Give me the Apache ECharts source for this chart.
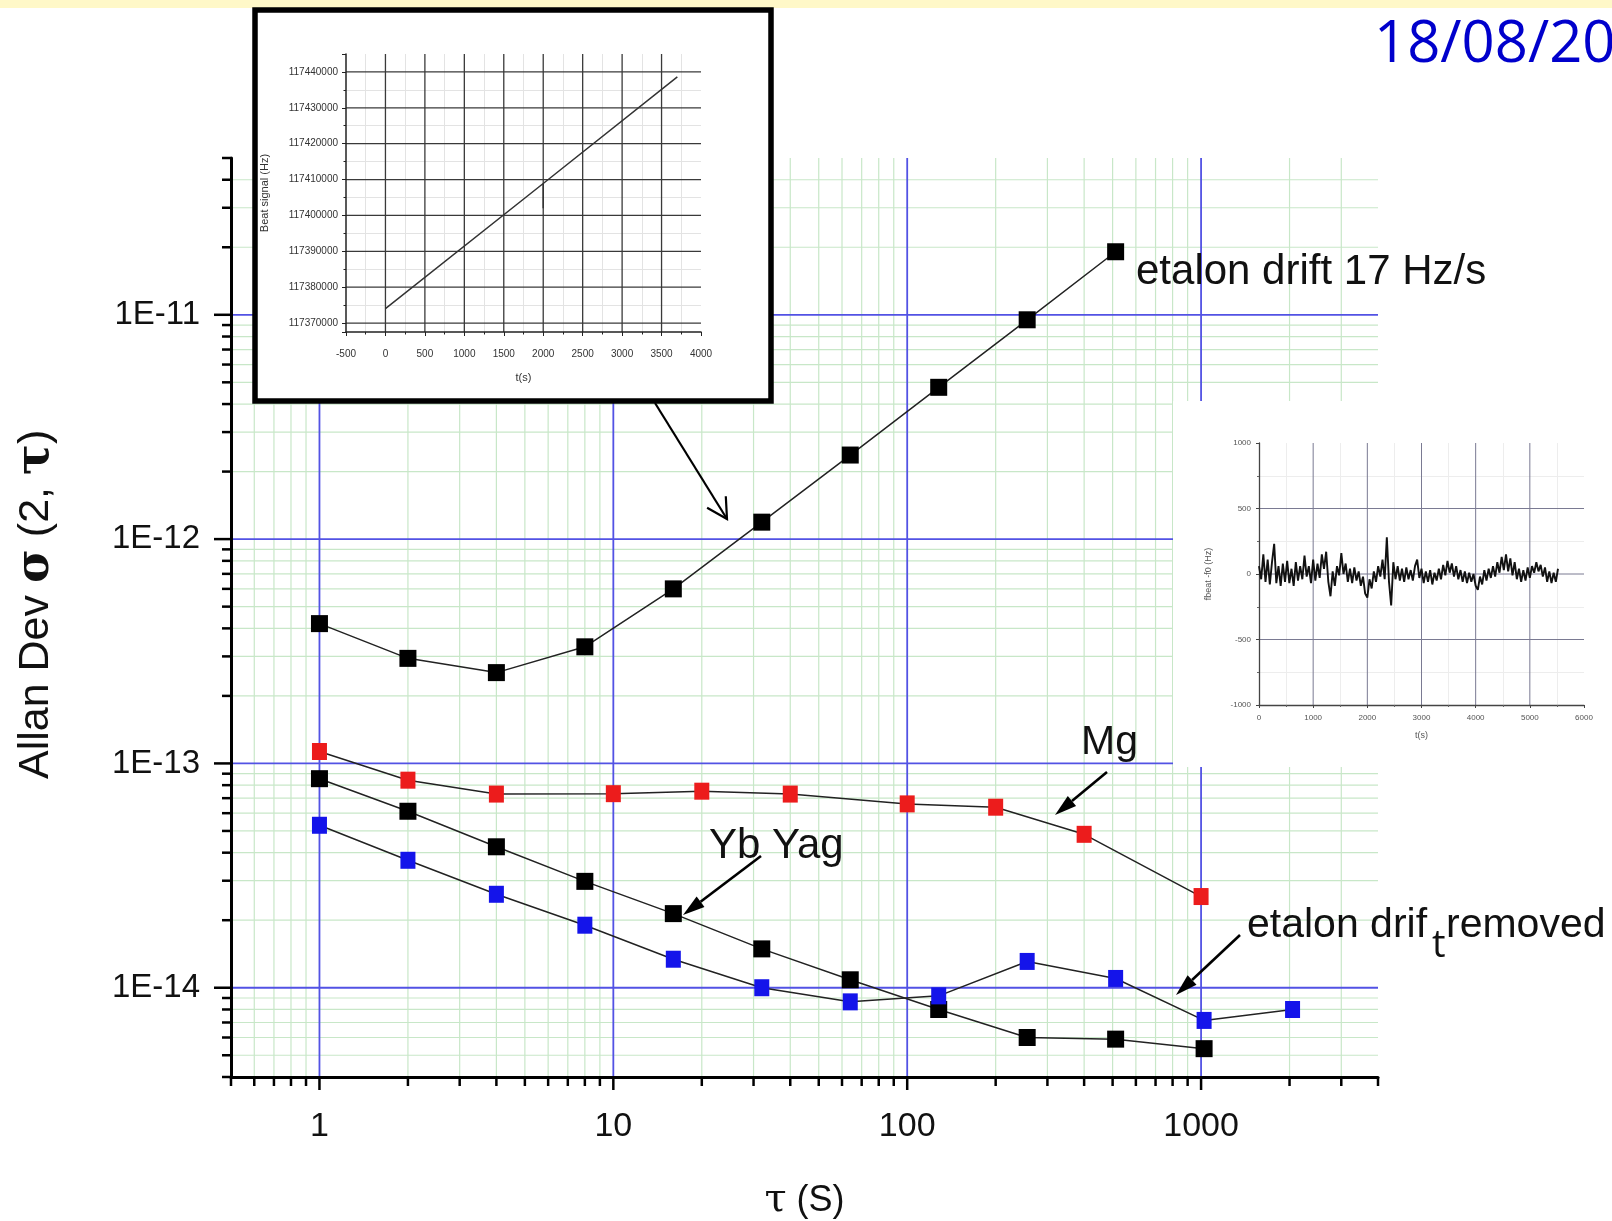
<!DOCTYPE html>
<html><head><meta charset="utf-8">
<script src="https://cdn.jsdelivr.net/npm/echarts@6/dist/echarts.min.js"></script>
<style>html,body{margin:0;padding:0;background:#fff;}#c{width:1612px;height:1221px;}</style>
</head><body><div id="c"></div>
<script>
// ---------- main chart data (Allan deviation vs tau) ----------
const tauDrift  = [1, 2, 4, 8, 16, 32, 64, 128, 256, 512];
const adevDrift = [4.2e-13, 2.94e-13, 2.54e-13, 3.31e-13, 6.0e-13, 1.19e-12, 2.37e-12, 4.75e-12, 9.5e-12, 1.91e-11];
const tauMg  = [1, 2, 4, 10, 20, 40, 100, 200, 400, 1000];
const adevMg = [1.13e-13, 8.42e-14, 7.3e-14, 7.33e-14, 7.52e-14, 7.3e-14, 6.6e-14, 6.38e-14, 4.83e-14, 2.55e-14];
const tauYb  = [1, 2, 4, 8, 16, 32, 64, 128, 256, 512, 1024];
const adevYb = [8.55e-14, 6.12e-14, 4.25e-14, 2.98e-14, 2.14e-14, 1.49e-14, 1.085e-14, 8.0e-15, 6.0e-15, 5.9e-15, 5.35e-15];
const tauRem  = [1, 2, 4, 8, 16, 32, 64, 128, 256, 512, 1024, 2048];
const adevRem = [5.3e-14, 3.7e-14, 2.61e-14, 1.9e-14, 1.34e-14, 1.0e-14, 8.65e-15, 9.2e-15, 1.31e-14, 1.1e-14, 7.15e-15, 8.0e-15];

// axis ranges / tick values
const X_MIN = 0.5, X_MAX = 4000, Y_MIN = 4e-15, Y_MAX = 5e-11;
const xMajor = [1, 10, 100, 1000];
const yMajor = [1e-14, 1e-13, 1e-12, 1e-11];

// ---------- inset 1 (beat signal vs time) ----------
const insetT    = [0, 2000, 2000, 2000, 3700];
const insetBeat = [117374000, 117408900, 117402000, 117408900, 117438600];
const inset1XGrid = [0, 500, 1000, 1500, 2000, 2500, 3000, 3500];
const inset1YGrid = [117370000, 117380000, 117390000, 117400000, 117410000, 117420000, 117430000, 117440000];

// ---------- inset 2 (beat - f0 after drift removal) ----------
const noiseStep = 40; // seconds between samples
const noiseHz = [60,-40,150,-60,110,-80,90,230,-70,60,
  -90,80,-60,100,-70,40,-90,90,-50,60,
  -40,140,-20,60,-70,110,-50,80,-30,150,
  40,170,-60,-170,20,-90,60,-10,160,0,
  80,-60,40,-70,50,-50,20,-90,-20,-150,
  -180,-40,-110,20,-60,60,-20,110,-40,280,
  -60,-240,90,-40,60,-50,40,-60,50,-40,
  30,-50,60,110,-30,40,-70,20,-60,30,
  -80,10,-50,40,-40,70,-10,100,10,80,
  -20,60,-40,30,-60,20,-70,10,-60,0,
  -90,-120,-20,-80,30,-50,40,-30,60,-20,
  90,10,130,30,150,20,120,-10,90,-40,
  40,-60,30,-50,50,-30,60,10,90,20,
  70,-20,50,-60,20,-70,10,-60,40];
const inset2XGrid = [1000, 2000, 3000, 4000, 5000];
const inset2YGrid = [500, 0, -500];

const LIB = "'Liberation Sans', Arial, sans-serif";
const BLUE = '#5252e4', GREEN = '#c8e7c8';

function logSteps(lo, hi) {
  const out = [];
  for (let e = Math.floor(Math.log10(lo)); e <= Math.ceil(Math.log10(hi)); e++) {
    for (let m = 1; m <= 9; m++) {
      const v = m * Math.pow(10, e);
      if (v >= lo * 0.999 && v <= hi * 1.001) out.push(v);
    }
  }
  return out;
}
const isMajor = v => Math.abs(Math.log10(v) - Math.round(Math.log10(v))) < 1e-6;
const xAll = logSteps(X_MIN, X_MAX), yAll = logSteps(Y_MIN, Y_MAX);
const inside = (v, lo, hi) => v > lo * 1.001 && v < hi * 0.999;
const xMinor = xAll.filter(v => !isMajor(v));
const yMinor = yAll.filter(v => !isMajor(v));

function lines(gi, vals, dir, lo, hi, style, z) {
  return {
    type: 'custom', xAxisIndex: gi, yAxisIndex: gi, z: z, silent: true, animation: false, clip: false,
    data: vals.map(v => dir === 'v' ? [v, lo] : [lo, v]),
    encode: { x: 0, y: 1 },
    renderItem(params, api) {
      const a = dir === 'v' ? api.coord([api.value(0), lo]) : api.coord([lo, api.value(1)]);
      const b = dir === 'v' ? api.coord([api.value(0), hi]) : api.coord([hi, api.value(1)]);
      return { type: 'line', shape: { x1: a[0], y1: a[1], x2: b[0], y2: b[1] }, style: style };
    }
  };
}
function ticks(vals, dir, len) {
  return {
    type: 'custom', xAxisIndex: 0, yAxisIndex: 0, z: 3, silent: true, animation: false, clip: false,
    data: vals.map(v => dir === 'x' ? [v, Y_MIN] : [X_MIN, v]),
    encode: { x: 0, y: 1 },
    renderItem(params, api) {
      const p = api.coord([api.value(0), api.value(1)]);
      const shape = dir === 'x' ? { x1: p[0], y1: p[1], x2: p[0], y2: p[1] + len }
                                : { x1: p[0], y1: p[1], x2: p[0] - len, y2: p[1] };
      return { type: 'line', shape: shape, style: { stroke: '#000', lineWidth: 2.5 } };
    }
  };
}
const powX = v => isMajor(v) ? String(Math.round(Math.pow(10, Math.round(Math.log10(v))))) : '';
const powY = v => isMajor(v) ? '1E' + Math.round(Math.log10(v)) : '';

const chart = echarts.init(document.getElementById('c'), null, { renderer: 'canvas' });

function arrow(x1, y1, x2, y2, filled) {
  const ang = Math.atan2(y2 - y1, x2 - x1);
  const L = filled ? 22 : 20, W = filled ? 6.5 : 11;
  const bx = x2 - L * Math.cos(ang), by = y2 - L * Math.sin(ang);
  const px = -Math.sin(ang) * W, py = Math.cos(ang) * W;
  const out = [{ type: 'line', z: 20, shape: { x1: x1, y1: y1, x2: filled ? bx : x2, y2: filled ? by : y2 },
                 style: { stroke: '#000', lineWidth: filled ? 2.6 : 2.2 } }];
  if (filled) out.push({ type: 'polygon', z: 20, shape: { points: [[x2, y2], [bx + px, by + py], [bx - px, by - py]] }, style: { fill: '#000' } });
  else out.push({ type: 'polyline', z: 20, shape: { points: [[bx + px, by + py], [x2, y2], [bx - px, by - py]] }, style: { stroke: '#000', lineWidth: 2.2, fill: null } });
  return out;
}
function txt(t, x, y, size, extra) {
  return Object.assign({ type: 'text', z: 20, x: x, y: y,
    style: Object.assign({ text: t, fontSize: size, fontFamily: LIB, fill: '#111',
      align: 'left', verticalAlign: 'middle', textAlign: 'left', textVerticalAlign: 'middle' }, (extra || {}).style || {}) },
    (extra || {}).el || {});
}

const option = {
  animation: false,
  backgroundColor: '#fff',
  grid: [
    { left: 231, top: 158, width: 1147, height: 919, containLabel: false, outerBoundsMode: 'none' },
    { left: 346, top: 54, width: 355, height: 278, containLabel: false, outerBoundsMode: 'none' },
    { left: 1259, top: 443, width: 325, height: 262, containLabel: false, outerBoundsMode: 'none' }
  ],
  xAxis: [
    { gridIndex: 0, type: 'log', logBase: 10, min: X_MIN, max: X_MAX, z: 3,
      axisLine: { show: true, onZero: false, lineStyle: { color: '#000', width: 3 } },
      axisTick: { show: false }, minorTick: { show: false }, splitLine: { show: false },
      axisLabel: { formatter: powX, margin: 33, fontSize: 34, fontFamily: LIB, color: '#111' },
      name: '{t|τ} (S)', nameLocation: 'middle', nameGap: 104,
      nameTextStyle: { fontSize: 36, fontFamily: LIB, color: '#111', rich: { t: { fontSize: 40, fontFamily: 'DejaVu Serif', color: '#111' } } } },
    { gridIndex: 1, type: 'value', min: -500, max: 4000, interval: 500, z: 11,
      axisLine: { onZero: false, lineStyle: { color: '#222', width: 1.5 } },
      axisTick: { length: 4, lineStyle: { color: '#222' } },
      minorTick: { show: true, splitNumber: 2, length: 2.5, lineStyle: { color: '#222' } },
      splitLine: { show: false }, minorSplitLine: { show: true, lineStyle: { color: '#e3e3e3', width: 1 } },
      axisLabel: { formatter: v => String(v), fontSize: 10, margin: 17, color: '#333', fontFamily: LIB },
      name: 't(s)', nameLocation: 'middle', nameGap: 40, nameTextStyle: { fontSize: 11, color: '#333', fontFamily: LIB } },
    { gridIndex: 2, type: 'value', min: 0, max: 6000, interval: 1000, z: 11,
      axisLine: { onZero: false, lineStyle: { color: '#444', width: 1.3 } },
      axisTick: { length: 3, lineStyle: { color: '#444' } },
      minorTick: { show: true, splitNumber: 2, length: 2, lineStyle: { color: '#666' } },
      splitLine: { show: false }, minorSplitLine: { show: true, lineStyle: { color: '#ededed', width: 1 } },
      axisLabel: { formatter: v => String(v), fontSize: 8, margin: 9, color: '#555', fontFamily: LIB },
      name: 't(s)', nameLocation: 'middle', nameGap: 26, nameTextStyle: { fontSize: 9, color: '#555', fontFamily: LIB } }
  ],
  yAxis: [
    { gridIndex: 0, type: 'log', logBase: 10, min: Y_MIN, max: Y_MAX, z: 3,
      axisLine: { show: true, onZero: false, lineStyle: { color: '#000', width: 3 } },
      axisTick: { show: false }, minorTick: { show: false }, splitLine: { show: false },
      axisLabel: { formatter: powY, margin: 31, fontSize: 33, fontFamily: LIB, color: '#111' } },
    { gridIndex: 1, type: 'value', min: 117367500, max: 117445000, splitNumber: 8, z: 11,
      axisLine: { onZero: false, lineStyle: { color: '#222', width: 1.5 } },
      axisTick: { length: 4, lineStyle: { color: '#222' } },
      minorTick: { show: true, splitNumber: 2, length: 2.5, lineStyle: { color: '#222' } },
      splitLine: { show: false }, minorSplitLine: { show: true, lineStyle: { color: '#e3e3e3', width: 1 } },
      axisLabel: { formatter: v => (Math.round(v) % 10000 === 0 ? String(Math.round(v)) : ''), fontSize: 10, margin: 8, color: '#333', fontFamily: LIB },
      name: 'Beat signal (Hz)', nameLocation: 'middle', nameGap: 76, nameTextStyle: { fontSize: 11, color: '#333', fontFamily: LIB } },
    { gridIndex: 2, type: 'value', min: -1000, max: 1000, interval: 500, z: 11,
      axisLine: { onZero: false, lineStyle: { color: '#444', width: 1.3 } },
      axisTick: { length: 3, lineStyle: { color: '#444' } },
      minorTick: { show: true, splitNumber: 2, length: 2, lineStyle: { color: '#666' } },
      splitLine: { show: false }, minorSplitLine: { show: true, lineStyle: { color: '#ededed', width: 1 } },
      axisLabel: { formatter: v => String(v), fontSize: 8, margin: 8, color: '#555', fontFamily: LIB },
      name: 'fbeat -f0 (Hz)', nameLocation: 'middle', nameGap: 46, nameTextStyle: { fontSize: 9, color: '#555', fontFamily: LIB } }
  ],
  series: [
    // main grid (minor green, major blue) and ticks
    lines(0, xMinor.filter(v => inside(v, X_MIN, X_MAX)), 'v', Y_MIN, Y_MAX, { stroke: GREEN, lineWidth: 1.2 }, 1),
    lines(0, yMinor.filter(v => inside(v, Y_MIN, Y_MAX)), 'h', X_MIN, X_MAX, { stroke: GREEN, lineWidth: 1.2 }, 1),
    lines(0, xMajor, 'v', Y_MIN, Y_MAX, { stroke: BLUE, lineWidth: 1.8 }, 2),
    lines(0, yMajor, 'h', X_MIN, X_MAX, { stroke: BLUE, lineWidth: 1.8 }, 2),
    ticks(xMinor, 'x', 9), ticks(xMajor, 'x', 13),
    ticks(yMinor, 'y', 9), ticks(yMajor, 'y', 17),
    // data
    { type: 'line', xAxisIndex: 0, yAxisIndex: 0, z: 5, data: tauDrift.map((t, i) => [t, adevDrift[i]]),
      symbol: 'rect', symbolSize: [17, 17], itemStyle: { color: '#000' }, lineStyle: { color: '#222', width: 1.5 } },
    { type: 'line', xAxisIndex: 0, yAxisIndex: 0, z: 5, data: tauMg.map((t, i) => [t, adevMg[i]]),
      symbol: 'rect', symbolSize: [15, 17], itemStyle: { color: '#ec1c1c' }, lineStyle: { color: '#222', width: 1.5 } },
    { type: 'line', xAxisIndex: 0, yAxisIndex: 0, z: 5, data: tauYb.map((t, i) => [t, adevYb[i]]),
      symbol: 'rect', symbolSize: [17, 17], itemStyle: { color: '#000' }, lineStyle: { color: '#222', width: 1.5 } },
    { type: 'line', xAxisIndex: 0, yAxisIndex: 0, z: 6, data: tauRem.map((t, i) => [t, adevRem[i]]),
      symbol: 'rect', symbolSize: [15, 17], itemStyle: { color: '#1414ea' }, lineStyle: { color: '#222', width: 1.5 } },
    // inset 1
    lines(1, inset1XGrid, 'v', 117367500, 117445000, { stroke: '#3a3a3a', lineWidth: 1.3 }, 11),
    lines(1, inset1YGrid, 'h', -500, 4000, { stroke: '#3a3a3a', lineWidth: 1.3 }, 11),
    { type: 'line', xAxisIndex: 1, yAxisIndex: 1, z: 12, showSymbol: false, symbol: 'none',
      data: insetT.map((t, i) => [t, insetBeat[i]]), lineStyle: { color: '#333', width: 1.5 } },
    // inset 2
    lines(2, inset2XGrid, 'v', -1000, 1000, { stroke: '#7a7a92', lineWidth: 1 }, 11),
    lines(2, inset2YGrid, 'h', 0, 6000, { stroke: '#7a7a92', lineWidth: 1 }, 11),
    { type: 'line', xAxisIndex: 2, yAxisIndex: 2, z: 12, showSymbol: false, symbol: 'none',
      data: noiseHz.map((v, i) => [i * noiseStep, v]), lineStyle: { color: '#111', width: 1.9 } }
  ],
  graphic: [
    { type: 'rect', z: 0, shape: { x: 0, y: 0, width: 1612, height: 8 }, style: { fill: '#fff8c8' } },
    { type: 'rect', z: 10, shape: { x: 255, y: 10, width: 516, height: 391 }, style: { fill: '#fff', stroke: '#000', lineWidth: 5.5 } },
    { type: 'rect', z: 10, shape: { x: 1173, y: 401, width: 450, height: 366 }, style: { fill: '#fff' } },
    txt('18/08/20', 1374, 45, 58, { style: { fontFamily: "'Open Sans', 'Noto Sans', sans-serif", fill: '#0000cc' } }),
    { type: 'text', z: 20, x: 36, y: 779, rotation: Math.PI / 2,
      style: { text: '{a|Allan Dev }{s|σ}{a| (2, }{s|τ}{a|)}', align: 'left', verticalAlign: 'middle', textAlign: 'left', textVerticalAlign: 'middle',
        rich: { a: { fontSize: 43, fontFamily: LIB, fill: '#111' }, s: { fontSize: 46, fontFamily: 'DejaVu Serif', fontWeight: 'bold', fill: '#111' } } } },
    txt('etalon drift 17 Hz/s', 1136, 272, 42),
    txt('Mg', 1081, 743, 41),
    txt('Yb Yag', 709, 846, 42),
    txt('etalon drif', 1247, 926, 41),
    txt('t', 1432, 946, 38, { style: { fontFamily: "'Open Sans', sans-serif" } }),
    txt('removed', 1446, 926, 41),
    ...arrow(655, 403, 727, 519, false),
    ...arrow(1107, 772, 1055, 815, true),
    ...arrow(761, 856, 683, 915, true),
    ...arrow(1240, 935, 1176, 995, true)
  ]
};
chart.setOption(option);
</script>
</body></html>
